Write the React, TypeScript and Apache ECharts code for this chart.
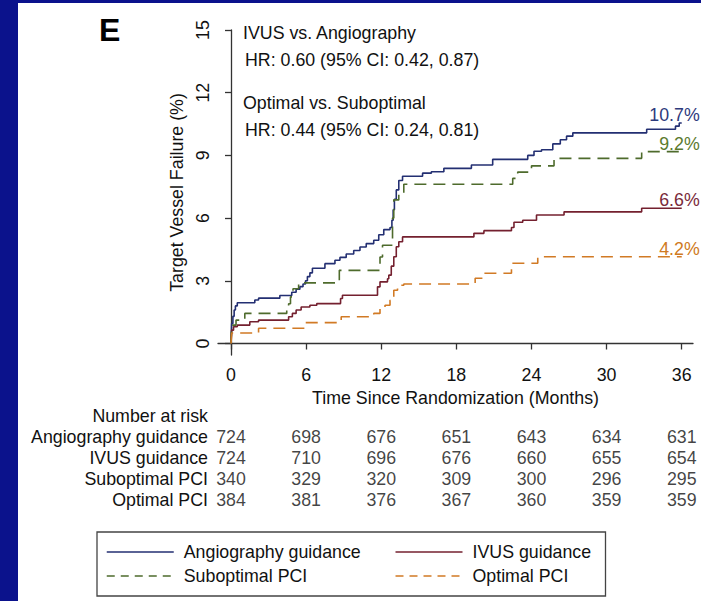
import React, { useEffect, useRef } from "react";
import * as echarts from "echarts";

const FONT = "'Liberation Sans', Arial, Helvetica, sans-serif";

// Axis ticks
const monthTicks = [0, 6, 12, 18, 24, 30, 36];
const failureTicks = [0, 3, 6, 9, 12, 15];

// Curves: [month, cumulative % failure]
const angiography: number[][] = [
  [0, 0], [0.05, 0.96], [0.15, 1.3], [0.25, 1.6], [0.35, 1.8], [0.5, 1.95], [1.9, 2.08], [2.2, 2.17],
  [3.9, 2.3], [4.85, 2.45], [5.2, 2.6], [5.5, 2.72], [5.75, 2.85], [5.95, 3.0], [6.1, 3.2], [6.3, 3.38],
  [6.5, 3.6], [7.5, 3.82], [8.3, 3.98], [8.7, 4.12], [9.2, 4.28], [9.8, 4.45], [10.3, 4.62], [10.8, 4.78],
  [11.4, 4.94], [11.8, 5.2], [12.2, 5.45], [12.7, 5.55], [12.85, 5.9], [12.95, 6.4], [13.05, 6.9],
  [13.2, 7.35], [13.4, 7.8], [13.7, 8.0], [15.3, 8.15], [16.0, 8.22], [17.0, 8.38], [19.2, 8.54],
  [20.9, 8.81], [23.7, 9.0], [24.2, 9.2], [24.8, 9.27], [25.7, 9.55], [26.3, 9.75], [26.8, 9.92],
  [27.3, 10.08], [33.2, 10.25], [35.5, 10.4], [35.8, 10.55], [36, 10.55],
];
const ivus: number[][] = [
  [0, 0], [0.05, 0.64], [0.2, 0.8], [0.5, 0.88], [1.5, 1.04], [2.2, 1.12], [4.6, 1.28], [4.9, 1.44],
  [5.2, 1.6], [5.6, 1.75], [6.3, 1.83], [6.85, 1.91], [8.75, 2.15], [8.9, 2.31], [11.7, 2.71],
  [11.9, 2.95], [12.5, 3.1], [12.6, 3.27], [12.8, 3.7], [13.0, 4.15], [13.2, 4.63], [13.4, 4.87],
  [13.7, 5.1], [19.4, 5.27], [20.2, 5.4], [22.4, 5.55], [22.6, 5.8], [23.3, 5.9], [24.4, 6.15],
  [26.6, 6.3], [32.8, 6.47], [36, 6.47],
];
const suboptimal: number[][] = [
  [0, 0], [0.05, 0.88], [0.4, 1.12], [1.1, 1.44], [4.45, 1.7], [4.6, 1.9], [4.75, 2.23], [4.95, 2.62],
  [5.4, 2.9], [8.65, 3.5], [11.9, 4.14], [12.1, 4.7], [12.9, 6.0], [13.0, 6.87], [13.4, 7.18],
  [13.8, 7.62], [22.5, 7.9], [22.9, 8.2], [24.0, 8.5], [25.8, 8.86], [32.8, 9.18], [36, 9.18],
];
const optimal: number[][] = [
  [0, 0], [0.05, 0.5], [2.2, 0.73], [5.9, 1.0], [8.8, 1.28], [11.4, 1.44], [11.9, 1.75], [12.3, 1.83],
  [12.7, 2.07], [13.0, 2.55], [13.3, 2.79], [13.8, 2.85], [19.5, 3.12], [20.2, 3.36], [22.4, 3.84],
  [24.5, 4.15], [36, 4.15],
];

const seriesNames = ["Angiography guidance", "IVUS guidance", "Suboptimal PCI", "Optimal PCI"];
const endLabels = ["10.7%", "6.6%", "9.2%", "4.2%"];
const lineColors = ["#232f72", "#74202f", "#4e6b2c", "#d17a25"];
const labelColors = ["#2d3a7c", "#7a2a3a", "#5b7a2e", "#cf7a22"];

// Number at risk
const riskRowLabels = ["Number at risk", "Angiography guidance", "IVUS guidance", "Suboptimal PCI", "Optimal PCI"];
const riskAngiography = [724, 698, 676, 651, 643, 634, 631];
const riskIvus = [724, 710, 696, 676, 660, 655, 654];
const riskSuboptimal = [340, 329, 320, 309, 300, 296, 295];
const riskOptimal = [384, 381, 376, 367, 360, 359, 359];

const annotations = [
  "IVUS vs. Angiography",
  "HR: 0.60 (95% CI: 0.42, 0.87)",
  "Optimal vs. Suboptimal",
  "HR: 0.44 (95% CI: 0.24, 0.81)",
];

export default function App() {
  const ref = useRef<HTMLDivElement>(null);
  useEffect(() => {
    document.body.style.margin = "0";
    if (!ref.current) return;
    const chart = echarts.init(ref.current, null, { renderer: "svg" });
    const fs = 17.8;
    const axisColor = "#333";
    const curves = [angiography, ivus, suboptimal, optimal];
    const dashed = [false, false, true, true];
    const riskData: any[] = [];
    [riskAngiography, riskIvus, riskSuboptimal, riskOptimal].forEach((row, r) => {
      row.forEach((n, i) => riskData.push([monthTicks[i], r + 1, n]));
    });
    const annY = [33, 60, 103, 130];
    const annX = [243, 245, 243, 245];

    chart.setOption({
      animation: false,
      textStyle: { fontFamily: FONT },
      grid: [
        { left: 218, right: 8, top: 30, bottom: 246, containLabel: false },
        { left: 218, right: 8, top: 405.5, height: 105, containLabel: false },
      ],
      xAxis: [
        {
          type: "value", gridIndex: 0, min: -1.04, max: 36.9,
          splitLine: { show: false },
          axisLine: { lineStyle: { color: axisColor, width: 1.3 } },
          axisTick: { customValues: monthTicks, length: 6, lineStyle: { color: axisColor, width: 1.3 } },
          axisLabel: { customValues: monthTicks, fontSize: fs, color: "#111", margin: 11, fontFamily: FONT },
          name: "Time Since Randomization (Months)", nameLocation: "middle", nameGap: 29,
          nameTextStyle: { fontSize: fs, color: "#111", fontFamily: FONT },
        },
        { type: "value", gridIndex: 1, min: -1.04, max: 36.9, show: false },
      ],
      yAxis: [
        {
          type: "value", gridIndex: 0, min: -0.55, max: 15,
          splitLine: { show: false },
          axisLine: { show: true, lineStyle: { color: axisColor, width: 1.3 } },
          axisTick: { show: true, customValues: failureTicks, length: 6, lineStyle: { color: axisColor, width: 1.3 } },
          axisLabel: { customValues: failureTicks, rotate: 90, fontSize: fs, color: "#111", margin: 6, fontFamily: FONT },
          name: "Target Vessel Failure (%)", nameLocation: "middle", nameGap: 29,
          nameTextStyle: { fontSize: fs, color: "#111", fontFamily: FONT },
        },
        {
          type: "category", gridIndex: 1, data: riskRowLabels, inverse: true,
          axisLine: { show: false }, axisTick: { show: false }, splitLine: { show: false },
          axisLabel: { interval: 0, fontSize: fs, color: "#111", margin: 10, fontFamily: FONT },
        },
      ],
      legend: {
        left: 97, top: 532, orient: "horizontal", width: 520,
        padding: [10, 13, 10, 9], itemGap: 4, itemWidth: 67, itemHeight: 14,
        borderColor: "#444", borderWidth: 1.3, selectedMode: false,
        itemStyle: { opacity: 0 },
        textStyle: { fontSize: fs, color: "#111", fontFamily: FONT, lineHeight: 20, width: 207, padding: [0, 0, 0, 5] },
        data: seriesNames.map((name, i) => ({
          name,
          lineStyle: dashed[i] ? { type: [8, 6], width: 1.5 } : { type: "solid", width: 1.5 },
          textStyle: i % 2 === 1 ? { width: 120 } : { width: 207 },
        })),
      },
      series: [
        ...curves.map((d, i) => ({
          type: "line", name: seriesNames[i], data: d, step: "end", symbol: "none", showSymbol: false,
          xAxisIndex: 0, yAxisIndex: 0,
          lineStyle: { color: lineColors[i], width: 1.6, type: dashed[i] ? [12, 7] : "solid" },
          itemStyle: { color: lineColors[i] },
          endLabel: {
            show: true, formatter: endLabels[i], color: labelColors[i], fontSize: fs, fontFamily: FONT,
            align: "right", verticalAlign: "bottom", offset: [10, 1],
          },
        })),
        {
          type: "scatter", xAxisIndex: 1, yAxisIndex: 1, data: riskData, symbolSize: 1,
          itemStyle: { color: "rgba(0,0,0,0)" },
          label: { show: true, position: "inside", formatter: (p: any) => String(p.value[2]), fontSize: fs, color: "#111", fontFamily: FONT },
        },
      ],
      graphic: [
        { type: "text", x: 99, y: 30, style: { text: "E", font: `bold 32px ${FONT}`, fill: "#000", verticalAlign: "middle" } },
        ...annotations.map((t, i) => ({
          type: "text", x: annX[i], y: annY[i],
          style: { text: t, fontSize: fs, fontFamily: FONT, fill: "#111", verticalAlign: "middle" },
        })),
      ],
    });
    return () => chart.dispose();
  }, []);
  return (
    <div style={{ position: "relative", width: 701, height: 601, background: "#0b128c", overflow: "hidden" }}>
      <div style={{ position: "absolute", left: 18, top: 3, width: 683, height: 598, background: "#fff" }} />
      <div ref={ref} style={{ position: "absolute", left: 0, top: 0, width: 701, height: 601 }} />
    </div>
  );
}
